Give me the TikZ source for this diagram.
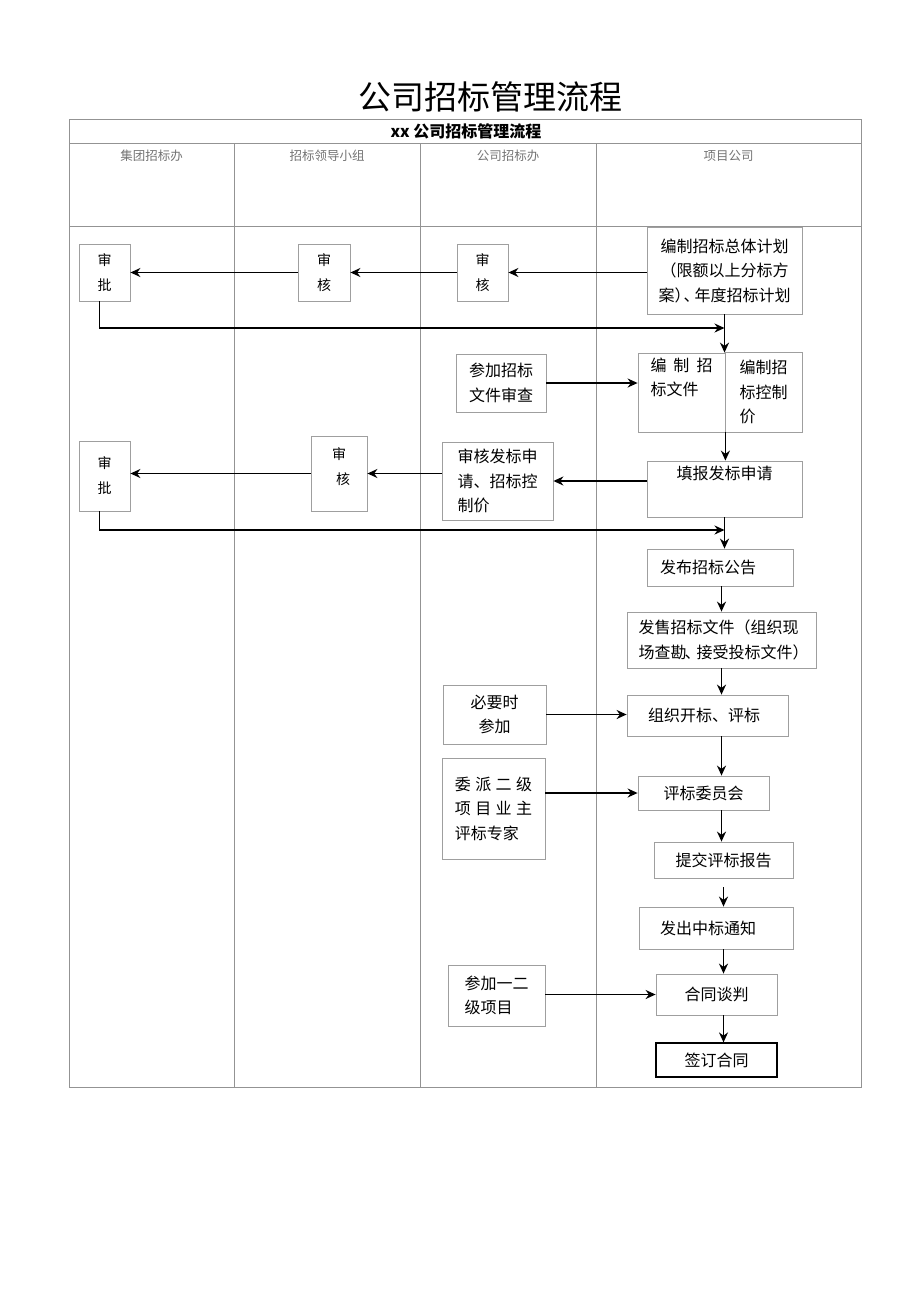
\documentclass[tikz,border=0pt]{standalone}
\usepackage{fontspec}
\setmainfont{Noto Sans CJK SC}
\usetikzlibrary{arrows.meta}

\begin{document}
\begin{tikzpicture}[x=1pt,y=-1pt,
  box/.style={draw=gray!75,line width=0.8pt,rectangle,inner sep=0pt,align=center,font=\fontsize{16}{24.5}\selectfont},
  small/.style={font=\fontsize{14}{25}\selectfont},
  arr/.style={draw=black,line width=1.5pt,-{Stealth[length=10pt,width=9pt]}},
  lane/.style={draw=gray!85,line width=1pt},
  lanename/.style={text=black!55,font=\fontsize{12.5}{14}\selectfont}]
\useasboundingbox (0,0) rectangle (920,1301);
\node (title) at (490,97) {\fontsize{33}{36}\selectfont 公司招标管理流程};
\draw[lane] (69,119) rectangle (861,1087);
\draw[lane] (69,143) -- (861,143);
\draw[lane] (69,226) -- (861,226);
\draw[lane] (234,143) -- (234,1087);
\draw[lane] (420,143) -- (420,1087);
\draw[lane] (596,143) -- (596,1087);
\node (head) at (466,131) {\fontsize{16}{18}\selectfont\bfseries xx 公司招标管理流程};
\node[lanename] (jt) at (151.5,156) {集团招标办};
\node[lanename] (ld) at (327,156) {招标领导小组};
\node[lanename] (gs) at (508,156) {公司招标办};
\node[lanename] (xm) at (728.5,156) {项目公司};

\node[box,small,minimum width=51,minimum height=57] (sp1) at (104.5,272.5) {审\\批};
\node[box,small,minimum width=52,minimum height=57] (sh1) at (324,272.5) {审\\核};
\node[box,small,minimum width=51,minimum height=57] (sh0) at (482.5,272.5) {审\\核};
\node[box,minimum width=155,minimum height=87] (plan) at (724.5,270.5) {编制招标总体计划\\（限额以上分标方\\案）\kern-7pt、\kern-5pt年度招标计划};
\node[box,minimum width=87,minimum height=79,align=left] (bzwj) at (681.5,392.5) {编\hspace{7pt}制\hspace{7pt}招\\标文件\\\strut};
\node[box,minimum width=77,minimum height=80,align=left] (bzkz) at (763.5,392) {编制招\\标控制\\价};
\node[box,minimum width=90,minimum height=58] (cjsc) at (501,383) {参加招标\\文件审查};
\node[box,minimum width=155,minimum height=56] (tbsq) at (724.5,489) {填报发标申请\\\strut};
\node[box,minimum width=111,minimum height=78,align=left] (shfb) at (497.5,481) {审核发标申\\请、招标控\\制价};
\node[box,small,minimum width=56,minimum height=75] (sh2) at (339,473.5) {审\\\hspace{8pt}核\\[-10pt]\mbox{}};
\node[box,small,minimum width=51,minimum height=70] (sp2) at (104.5,476) {审\\批};

\node[box,minimum width=146,minimum height=37,text width=120,align=left] (fbgg) at (720,567.5) {发布招标公告};
\node[box,minimum width=189,minimum height=56,text width=166,align=left] (fswj) at (721.5,640) {发售招标文件（组织现\\场查勘\kern-2pt、\kern-4pt接受投标文件）};
\node[box,minimum width=161,minimum height=41,text width=119,align=left] (kbpb) at (707.5,715.5) {组织开标、评标};
\node[box,minimum width=103,minimum height=59] (byscj) at (494.5,714.5) {必要时\\参加};
\node[box,minimum width=131,minimum height=34] (pbwy) at (703.5,793) {评标委员会};
\node[box,minimum width=103,minimum height=101,align=left] (wpej) at (493.5,808.5) {委\hspace{4.5pt}派\hspace{4.5pt}二\hspace{4.5pt}级\\项\hspace{4.5pt}目\hspace{4.5pt}业\hspace{4.5pt}主\\评标专家};
\node[box,minimum width=139,minimum height=36] (tjbg) at (723.5,860) {提交评标报告};
\node[box,minimum width=154,minimum height=42,text width=112,align=left] (fczb) at (716,928) {发出中标通知};
\node[box,minimum width=121,minimum height=41] (htth) at (716.5,994.5) {合同谈判};
\node[box,minimum width=97,minimum height=61,align=left] (cjye) at (496.5,995.5) {参加一二\\级项目};
\node[box,draw=black,line width=1.2pt,minimum width=121,minimum height=34] (qdht) at (716.5,1060) {签订合同};

\coordinate (m1) at (724.5,328);
\coordinate (m2) at (724.5,530);
\draw[arr] (plan.west |- sh0.east) -- (sh0.east);
\draw[arr] (sh0.west) -- (sh1.east);
\draw[arr] (sh1.west) -- (sp1.east);
\draw[arr] ([xshift=-5pt]sp1.south) |- (m1);
\draw[arr] (plan.south) -- (plan.south |- bzwj.north);
\draw[arr] (cjsc.east) -- (cjsc.east -| bzwj.west);
\draw[arr] (bzwj.south east) -- (bzwj.south east |- tbsq.north);
\draw[arr] (tbsq.west |- shfb.east) -- (shfb.east);
\draw[arr] (shfb.west |- sh2.east) -- (sh2.east);
\draw[arr] (sh2.west) -- (sh2.west -| sp2.east);
\draw[arr] ([xshift=-5pt]sp2.south) |- (m2);
\draw[arr] (tbsq.south) -- (tbsq.south |- fbgg.north);
\draw[arr] (fswj.north |- fbgg.south) -- (fswj.north);
\draw[arr] (fswj.south) -- (fswj.south |- kbpb.north);
\draw[arr] (byscj.east) -- (byscj.east -| kbpb.west);
\draw[arr] (fswj.south |- kbpb.south) -- (fswj.south |- pbwy.north);
\draw[arr] (wpej.east |- pbwy.west) -- (pbwy.west);
\draw[arr] (fswj.south |- pbwy.south) -- (fswj.south |- tjbg.north);
\draw[arr] ([yshift=-9pt]tjbg.south) -- (tjbg.south |- fczb.north);
\draw[arr] (tjbg.south |- fczb.south) -- (tjbg.south |- htth.north);
\draw[arr] (cjye.east |- htth.west) -- (htth.west);
\draw[arr] (tjbg.south |- htth.south) -- (tjbg.south |- qdht.north);
\end{tikzpicture}
\end{document}
